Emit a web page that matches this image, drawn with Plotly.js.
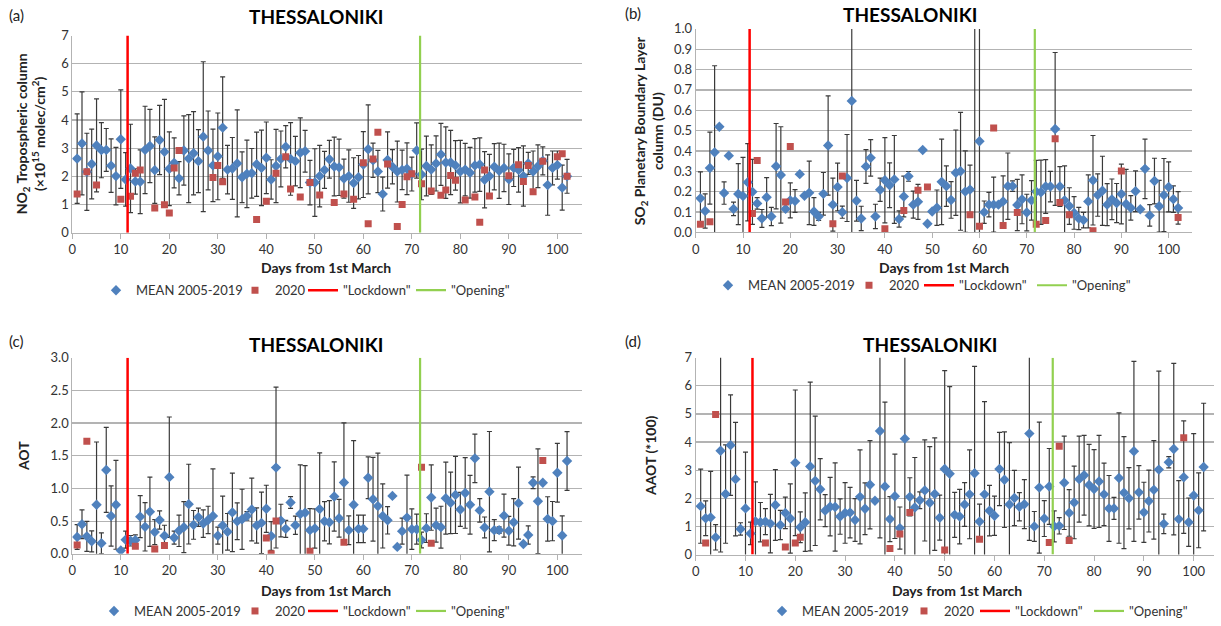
<!DOCTYPE html>
<html><head><meta charset="utf-8">
<script src="https://cdn.plot.ly/plotly-3.0.1.min.js"></script>
<style>html,body{margin:0;padding:0;background:#fff}#chart{width:1221px;height:626px}</style>
</head><body><div id="chart"></div>
<script>
// ---------------- DATA ----------------
const DAYS = [1,2,3,4,5,6,7,8,9,10,11,12,13,14,15,16,17,18,19,20,21,22,23,24,25,26,27,28,29,30,31,32,33,34,35,36,37,38,39,40,41,42,43,44,45,46,47,48,49,50,51,52,53,54,55,56,57,58,59,60,61,62,63,64,65,66,67,68,69,70,71,72,73,74,75,76,77,78,79,80,81,82,83,84,85,86,87,88,89,90,91,92,93,94,95,96,97,98,99,100,101,102];
const LOCKDOWN_DAY = 11.4;
const OPENING_DAY = 71.7;

// (a) NO2 tropospheric column
const NO2_MEAN = [2.63,3.17,2.16,2.44,3.10,2.93,2.94,2.38,2.01,3.32,1.89,2.28,1.82,1.81,2.94,3.08,2.22,3.29,2.87,2.27,2.48,1.93,2.92,2.63,2.82,2.54,3.41,2.92,2.39,2.71,3.73,2.24,2.28,2.46,1.97,2.09,2.11,2.43,2.30,2.66,1.89,2.37,2.62,3.05,2.62,2.54,2.84,2.89,1.78,1.78,2.01,2.23,2.61,2.35,2.32,1.92,2.01,1.76,1.97,2.42,2.96,2.57,2.17,1.37,2.58,2.34,2.17,2.23,2.27,2.08,2.92,2.07,2.37,2.24,2.46,2.78,2.49,2.49,2.39,2.17,2.24,2.13,2.39,2.42,1.88,2.01,2.34,2.20,2.30,1.90,2.30,2.23,2.01,2.46,2.17,2.36,2.55,1.69,2.30,2.40,1.60,2.00];
const NO2_SD = [1.59,1.83,1.37,1.24,1.65,0.98,0.76,0.95,1.02,1.75,0.95,1.57,0.45,1.13,1.55,1.30,1.18,1.23,1.86,1.31,0.89,0.59,1.23,1.56,1.48,1.12,2.66,1.40,1.29,1.54,1.80,0.86,1.10,1.90,0.90,1.20,0.88,1.14,1.34,1.27,0.70,1.30,0.99,0.75,1.29,0.88,1.24,0.74,0.79,1.20,1.09,0.66,0.67,1.04,1.00,0.69,0.93,0.90,0.77,1.17,1.58,0.61,0.75,0.60,1.00,0.61,1.08,0.70,0.92,0.60,0.98,0.90,1.06,0.88,0.98,1.10,1.27,1.14,0.88,1.11,0.93,0.90,0.95,0.95,1.00,0.77,0.82,0.98,0.84,0.90,0.66,0.79,1.07,0.39,0.73,0.76,0.50,1.07,0.60,0.50,0.80,0.60];
const NO2_2020_DAYS = [1,3,5,10,12,13,14,17,19,20,21,22,29,30,31,38,40,42,44,45,47,49,51,54,56,58,60,61,62,63,65,67,68,69,70,72,74,76,77,78,79,81,83,84,85,86,90,92,93,94,95,97,100,101,102];
const NO2_2020 = [1.37,2.16,1.69,1.19,1.29,2.11,2.23,0.88,0.99,0.70,2.30,2.92,1.96,2.39,1.81,0.47,1.12,2.11,2.70,1.55,1.27,1.78,1.34,1.07,1.37,1.19,2.48,0.32,2.62,3.57,2.44,0.22,1.00,1.99,2.09,1.74,1.48,1.33,1.52,2.03,1.86,1.16,1.27,0.37,2.23,1.30,2.02,2.41,1.82,2.39,1.45,2.54,2.70,2.80,2.00];

// (b) SO2 PBL column
const SO2_MEAN = [0.167,0.105,0.316,0.393,0.519,0.193,0.377,0.115,0.188,0.178,0.246,0.199,0.142,0.068,0.172,0.078,0.325,0.282,0.115,0.157,0.154,0.286,0.180,0.194,0.102,0.078,0.189,0.427,0.136,0.223,0.099,0.267,0.646,0.155,0.068,0.324,0.366,0.078,0.209,0.256,0.231,0.260,0.065,0.176,0.275,0.136,0.150,0.405,0.042,0.102,0.121,0.248,0.227,0.159,0.293,0.300,0.200,0.210,1.300,0.448,0.099,0.136,0.136,0.136,0.152,0.227,0.227,0.134,0.162,0.097,0.157,0.200,0.197,0.225,0.225,0.508,0.225,0.157,0.129,0.095,0.068,0.060,0.152,0.256,0.183,0.204,0.136,0.162,0.144,0.188,0.139,0.120,0.202,0.113,0.312,0.083,0.252,0.128,0.183,0.223,0.163,0.120];
const SO2_SD = [0.13,0.084,0.177,0.426,null,0.055,null,0.033,0.15,0.19,0.19,0.16,0.028,0.044,0.097,0.045,0.21,0.237,null,0.086,0.056,null,null,0.156,0.068,0.02,0.105,0.244,0.13,0.117,0.03,0.214,0.7,0.1,0.06,0.083,0.09,0.06,0.057,0.21,0.11,0.216,0.04,0.1,0.024,0.066,0.086,null,null,null,0.087,0.21,0.1,0.09,0.21,0.29,0.2,0.12,1.5,0.6,0.055,0.06,0.135,null,0.125,0.163,0.026,0.126,0.12,0.09,0.097,0.154,0.158,0.132,0.075,0.376,0.098,0.17,0.09,0.08,0.055,0.038,0.13,0.22,0.104,0.17,0.103,0.1,0.096,0.147,0.17,0.06,0.1,null,0.146,0.053,0.112,0.127,0.18,0.123,0.065,0.08];
const SO2_2020_DAYS = [1,3,12,13,19,20,29,31,40,44,47,49,58,60,63,65,68,72,74,76,77,79,84,90,102];
const SO2_2020 = [0.039,0.052,0.092,0.353,0.149,0.422,0.042,0.277,0.018,0.107,0.207,0.223,0.086,0.030,0.513,0.034,0.097,0.039,0.058,0.460,0.146,0.086,0.008,0.301,0.073];

// (c) AOT
const AOT_MEAN = [0.257,0.453,0.267,0.191,0.75,0.161,1.283,0.579,0.75,0.05,0.216,0.2,0.21,0.569,0.413,0.644,0.332,0.518,0.277,1.173,0.247,0.352,0.408,0.76,0.443,0.559,0.463,0.518,0.579,0.277,0.433,0.337,0.634,0.498,0.528,0.579,0.679,0.433,0.473,0.689,0.272,1.319,0.508,0.382,0.785,0.438,0.609,0.629,0.362,0.388,0.684,0.498,0.483,0.876,0.544,1.092,0.362,0.75,0.382,0.382,1.163,0.835,0.73,0.579,0.513,0.886,0.106,0.347,0.554,0.377,0.377,0.211,0.393,0.861,0.438,0.408,0.851,0.78,0.901,0.679,0.931,0.75,1.46,0.664,0.403,0.951,0.362,0.362,0.584,0.352,0.483,0.775,0.151,0.287,1.087,0.805,1.087,0.533,0.5,1.24,0.28,1.42];
const AOT_SD = [0.19,0.22,0.23,0.16,0.96,0.16,0.65,0.46,0.68,null,0.13,0.08,0.08,0.32,0.37,0.53,0.19,0.14,0.16,0.92,0.1,0.24,0.39,0.61,0.22,0.14,0.21,0.21,0.72,0.13,0.45,0.28,0.6,0.28,0.46,0.065,0.48,0.27,0.47,0.36,0.22,1.23,0.25,0.13,0.09,0.14,0.75,0.72,0.33,0.3,0.86,0.3,0.33,0.53,0.29,0.91,0.22,0.98,0.21,0.21,0.32,0.64,0.81,0.49,0.21,null,null,0.2,0.65,0.31,0.23,0.12,0.22,0.5,0.26,0.32,0.55,0.47,0.59,0.26,0.54,0.45,0.37,0.18,0.16,0.92,0.16,0.05,0.33,0.22,0.36,0.55,null,0.14,0.09,0.8,null,0.34,0.3,0.45,0.3,0.45];
const AOT_2020_DAYS = [1,3,13,17,19,40,41,42,49,56,72,74,97];
const AOT_2020 = [0.136,1.72,0.116,0.075,0.126,0.242,0.0,0.503,0.04,0.176,1.324,0.161,1.429];

// (d) AAOT (*100)
const AAOT_MEAN = [1.72,1.29,1.32,0.61,3.69,2.15,3.89,2.68,0.91,1.64,0.75,1.18,1.15,1.17,1.10,1.76,1.05,1.48,1.28,3.26,0.97,1.15,3.13,2.62,2.32,1.56,1.70,1.69,1.35,1.48,1.49,1.23,2.05,1.63,2.48,1.91,4.39,2.42,1.26,2.07,0.94,4.12,2.05,1.67,1.93,2.28,1.84,2.15,1.31,3.04,2.87,1.41,1.35,1.78,2.14,2.89,1.17,2.14,1.56,1.38,3.04,2.66,1.78,2.01,1.70,1.79,4.30,1.00,2.38,1.28,2.42,1.00,1.02,2.55,1.48,1.85,2.68,2.82,2.47,2.33,2.60,2.14,1.64,1.64,2.72,2.20,2.00,3.67,2.21,1.50,1.90,2.30,3.02,1.09,3.28,3.75,1.26,2.75,1.15,2.10,1.57,3.11];
const AAOT_SD = [1.32,0.62,1.64,0.45,3.6,1.75,1.79,2.02,0.22,2.0,0.4,1.4,0.7,0.46,1.04,1.26,0.52,0.56,1.23,2.59,0.55,1.04,3.0,2.3,1.09,0.57,1.04,1.57,0.63,1.08,0.9,0.76,1.67,0.92,1.57,null,3.8,3.0,0.8,1.5,0.75,4.2,0.68,1.78,0.3,1.8,2.0,2.0,0.8,3.5,3.1,0.8,0.97,0.78,1.58,3.8,0.62,3.3,0.9,0.7,1.3,1.7,2.2,0.98,0.5,0.87,3.8,0.53,2.33,0.64,1.35,0.55,0.29,1.66,0.83,1.29,1.53,1.42,1.45,1.4,1.64,1.11,1.17,0.39,2.32,1.99,1.09,3.2,0.95,1.07,1.1,1.75,3.5,0.35,0.2,3.05,1.37,2.0,0.86,2.2,1.33,2.27];
const AAOT_2020_DAYS = [2,4,14,18,20,21,39,41,43,50,57,71,73,75,98];
const AAOT_2020 = [0.41,4.98,0.41,0.27,0.41,0.61,0.21,0.73,1.49,0.16,0.54,0.43,3.85,0.50,4.15];

// ---------------- LAYOUT HELPERS ----------------
const W = 1221, H = 626;
const px = v => v / W;
const py = v => 1 - v / H;
const FONT = 'Lato, "Open Sans", sans-serif';
const BLUE = '#4f81bd', RED = '#c0504d', GRID = '#b3b3b3';

// legend anchor x positions (px) per panel: [mean, 2020, lockdown, opening], and legend row y (px)
const panels = [
  {id:'', mean:NO2_MEAN, sd:NO2_SD, d20:NO2_2020_DAYS, v20:NO2_2020, ymax:7, lx:[96,235,303,411], ly:294},
  {id:'2', mean:SO2_MEAN, sd:SO2_SD, d20:SO2_2020_DAYS, v20:SO2_2020, ymax:1, lx:[708,849,919,1032], ly:289},
  {id:'3', mean:AOT_MEAN, sd:AOT_SD, d20:AOT_2020_DAYS, v20:AOT_2020, ymax:3, lx:[94,235,303,411], ly:619},
  {id:'4', mean:AAOT_MEAN, sd:AAOT_SD, d20:AAOT_2020_DAYS, v20:AAOT_2020, ymax:7, lx:[762,904,975,1089], ly:619}
];

const legendCommon = {orientation:'h', xanchor:'left', yanchor:'middle', bgcolor:'rgba(0,0,0,0)',
  font:{family:FONT, size:13, color:'#333'}, itemwidth:30, tracegroupgap:0, borderwidth:0};

const traces = [];
const legends = {};
let li = 1;
function legId() { const id = li === 1 ? 'legend' : 'legend' + li; li++; return id; }
panels.forEach(p => {
  const xa = 'x' + p.id, ya = 'y' + p.id;
  const ids = [legId(), legId(), legId(), legId()];
  ids.forEach((id, k) => { legends[id] = Object.assign({}, legendCommon, {x:px(p.lx[k]), y:py(p.ly)}); });
  traces.push({x:DAYS, y:p.mean, xaxis:xa, yaxis:ya, type:'scatter', mode:'markers',
    name:'MEAN 2005-2019', legend:ids[0],
    marker:{symbol:'diamond', size:8, color:BLUE},
    error_y:{type:'data', array:p.sd, visible:true, color:'#3a3a3a', thickness:1.2, width:2.5}});
  traces.push({x:p.d20, y:p.v20, xaxis:xa, yaxis:ya, type:'scatter', mode:'markers',
    name:'2020', legend:ids[1], marker:{symbol:'square', size:7, color:RED}});
  traces.push({x:[LOCKDOWN_DAY, LOCKDOWN_DAY], y:[0, p.ymax], xaxis:xa, yaxis:ya, type:'scatter', mode:'lines',
    name:'"Lockdown"', legend:ids[2], line:{color:'#ff0000', width:2.5}});
  traces.push({x:[OPENING_DAY, OPENING_DAY], y:[0, p.ymax], xaxis:xa, yaxis:ya, type:'scatter', mode:'lines',
    name:'"Opening"', legend:ids[3], line:{color:'#92d050', width:2.2}});
});

const xCommon = {tickmode:'linear', tick0:0, dtick:10, showgrid:false, zeroline:false,
  showline:true, linecolor:GRID, linewidth:1, ticks:'outside', ticklen:5, tickcolor:GRID,
  tickfont:{family:FONT, size:13, color:'#333'}};
const yCommon = {showgrid:true, gridcolor:GRID, gridwidth:1.2, zeroline:false, showline:true,
  linecolor:GRID, linewidth:1, ticks:'', tickfont:{family:FONT, size:13, color:'#333'}};

const ann = [];
const titleFont = {family:FONT, size:19, color:'#000'};
const axFont = {family:FONT, size:14, color:'#222'};
function A(x, y, text, font, extra) {
  ann.push(Object.assign({xref:'paper', yref:'paper', x:px(x), y:py(y), text:text, showarrow:false,
    font:font, xanchor:'center', yanchor:'middle'}, extra || {}));
}
// panel titles
A(316, 17, '<b>THESSALONIKI</b>', titleFont);
A(910, 15, '<b>THESSALONIKI</b>', titleFont);
A(316, 349, '<b>THESSALONIKI</b>', titleFont);
A(930, 349, '<b>THESSALONIKI</b>', titleFont);
// panel letters
const lblFont = {family:FONT, size:15, color:'#222'};
A(16, 15, '(a)', lblFont);
A(633, 13, '(b)', lblFont);
A(16, 345, '(c)', lblFont);
A(633, 345, '(d)', lblFont);
// x axis titles
A(326, 271, '<b>Days from 1st March</b>', axFont);
A(944, 271, '<b>Days from 1st March</b>', axFont);
A(326, 598, '<b>Days from 1st March</b>', axFont);
A(957, 598, '<b>Days from 1st March</b>', axFont);
// y axis titles
A(30, 136, '<b>NO<sub>2</sub> Tropospheric column<br>(×10<sup>15</sup> molec/cm<sup>2</sup>)</b>', axFont, {textangle:-90});
A(648, 132, '<b>SO<sub>2</sub> Planetary Boundary Layer<br>column (DU)</b>', axFont, {textangle:-90});
A(23, 462, '<b>AOT</b>', axFont, {textangle:-90});
A(650, 462, '<b>AAOT (*100)</b>', axFont, {textangle:-90});

const layout = Object.assign({
  width:W, height:H, margin:{l:0, r:0, t:0, b:0}, paper_bgcolor:'#fff', plot_bgcolor:'#fff',
  font:{family:FONT},
  xaxis: Object.assign({}, xCommon, {domain:[px(72.3), px(581.6)], range:[0,105], anchor:'y'}),
  yaxis: Object.assign({}, yCommon, {domain:[py(235.7), py(36)], range:[0,7], dtick:1, anchor:'x'}),
  xaxis2: Object.assign({}, xCommon, {domain:[px(695.7), px(1192.3)], range:[0,105], anchor:'y2'}),
  yaxis2: Object.assign({}, yCommon, {domain:[py(235.3), py(29.3)], range:[0,1], dtick:0.1, tickformat:'.1f', anchor:'x2'}),
  xaxis3: Object.assign({}, xCommon, {domain:[px(72.3), px(581.6)], range:[0,105], anchor:'y3'}),
  yaxis3: Object.assign({}, yCommon, {domain:[py(561), py(362.3)], range:[0,3], dtick:0.5, tickformat:'.1f', anchor:'x3'}),
  xaxis4: Object.assign({}, xCommon, {domain:[px(695.7), px(1213.6)], range:[0,104], anchor:'y4'}),
  yaxis4: Object.assign({}, yCommon, {domain:[py(561.7), py(362.3)], range:[0,7], dtick:1, anchor:'x4'}),
  showlegend:true,
  annotations: ann
}, legends);

Plotly.newPlot('chart', traces, layout, {displayModeBar:false, staticPlot:true});
</script>
</body></html>
